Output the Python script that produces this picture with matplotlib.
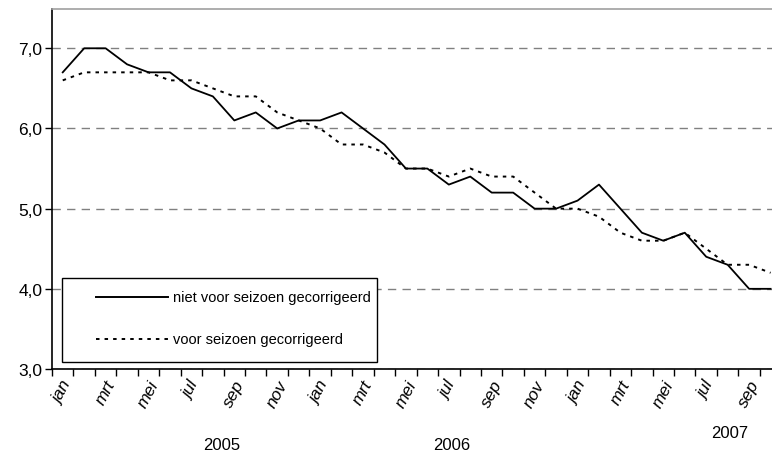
import numpy as np
import matplotlib
matplotlib.use("Agg")
import matplotlib.pyplot as plt
from matplotlib.lines import Line2D
from matplotlib.patches import Rectangle

plt.rcParams['font.family'] = ['Liberation Sans', 'DejaVu Sans']
plt.rcParams['font.size'] = 11

# monthly values jan 2005 - okt 2007
niet_gecorrigeerd = [6.7, 7.0, 7.0, 6.8, 6.7, 6.7, 6.5, 6.4, 6.1, 6.2, 6.0, 6.1,
                     6.1, 6.2, 6.0, 5.8, 5.5, 5.5, 5.3, 5.4, 5.2, 5.2, 5.0, 5.0,
                     5.1, 5.3, 5.0, 4.7, 4.6, 4.7, 4.4, 4.3, 4.0, 4.0]
gecorrigeerd = [6.6, 6.7, 6.7, 6.7, 6.7, 6.6, 6.6, 6.5, 6.4, 6.4, 6.2, 6.1,
                6.0, 5.8, 5.8, 5.7, 5.5, 5.5, 5.4, 5.5, 5.4, 5.4, 5.2, 5.0,
                5.0, 4.9, 4.7, 4.6, 4.6, 4.7, 4.5, 4.3, 4.3, 4.2]
maand_labels = ["jan", "mrt", "mei", "jul", "sep", "nov"] * 2 + ["jan", "mrt", "mei", "jul", "sep"]
jaren = ["2005", "2006", "2007"]
y_ticks = [3.0, 4.0, 5.0, 6.0, 7.0]

W, H = 772, 460
fig = plt.figure(figsize=(W / 100, H / 100), dpi=100)
n = len(niet_gecorrigeerd)
step = 21.45
ax = fig.add_axes([52 / W, 90 / H, n * step / W, 360 / H])

x = np.arange(n)
ax.plot(x, niet_gecorrigeerd, color='black', lw=1.3, zorder=3)
ax.plot(x, gecorrigeerd, color='black', lw=1.4, ls=(0, (1.8, 2.6)), zorder=3)

ax.set_xlim(-0.5, n - 0.5)
ax.set_ylim(3.0, 7.49)

# y axis
ax.set_yticks(y_ticks)
ax.set_yticklabels([f"{v:.1f}".replace(".", ",") for v in y_ticks])
ax.tick_params(axis='y', direction='out', length=5, width=1, pad=2, labelsize=12.5)
ax.yaxis.grid(True, color='#808080', lw=1, ls=(0, (6, 4.5)))

# x axis: tick marks between months, labels every two months
ax.set_xticks(np.arange(-0.5, n, 1), minor=True)
ax.set_xticks(x[::2])
ax.set_xticklabels(maand_labels, rotation=62, ha='center', va='top', style='italic', fontsize=12.5)
ax.tick_params(axis='x', which='major', length=0, pad=6)
ax.tick_params(axis='x', which='minor', direction='out', length=5, width=1)

for s in ['left', 'bottom']:
    ax.spines[s].set_color('black')
    ax.spines[s].set_linewidth(1.2)
ax.spines['top'].set_color('#a0a0a0')
ax.spines['top'].set_linewidth(1.2)
ax.spines['right'].set_visible(False)

# years below the month labels
for jaar, px, py in zip(jaren, [222, 452, 730], [446, 446, 434]):
    fig.text(px / W, 1 - py / H, jaar, ha='center', va='center', fontsize=12)

# legend box drawn by hand (Excel style)
def fx(p):
    return p / W


def fy(p):
    return 1 - p / H


fig.add_artist(Rectangle((fx(62), fy(363)), fx(377) - fx(62), fy(279) - fy(363),
                         transform=fig.transFigure, facecolor='white', edgecolor='black', lw=1, zorder=5))
legend_items = [("niet voor seizoen gecorrigeerd", '-', 298),
                ("voor seizoen gecorrigeerd", (0, (1.8, 2.6)), 340)]
for label, style, py in legend_items:
    fig.add_artist(Line2D([fx(96), fx(168)], [fy(py), fy(py)], transform=fig.transFigure,
                          color='black', lw=1.4, ls=style, zorder=6))
    fig.text(fx(173), fy(py), label, ha='left', va='center', fontsize=10.5, zorder=6)

plt.savefig("out.png", dpi=100)
